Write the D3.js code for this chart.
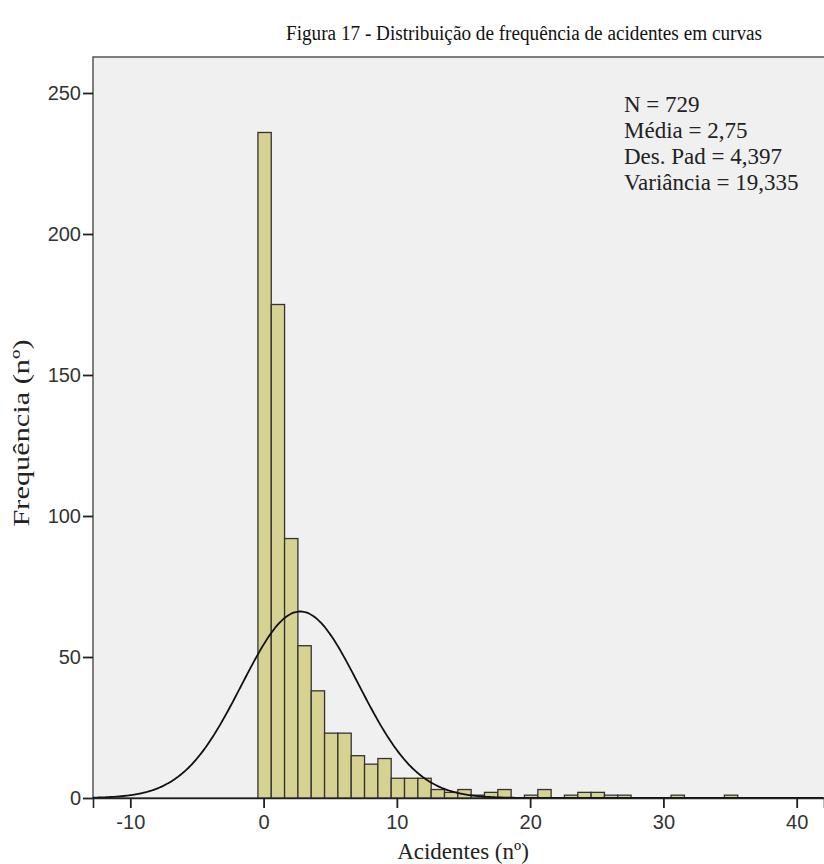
<!DOCTYPE html>
<html><head><meta charset="utf-8">
<script src="https://cdn.jsdelivr.net/npm/d3@7"></script>
<style>body{margin:0;background:#fff}svg{display:block}</style>
</head><body><svg id="c" width="824" height="864"></svg>
<script>
const title = "Figura 17 - Distribuição de frequência de acidentes em curvas";
const xLabel = "Acidentes (nº)";
const yLabel = "Frequência (nº)";
const binCenters = [0,1,2,3,4,5,6,7,8,9,10,11,12,13,14,15,16,17,18,20,21,23,24,25,26,27,31,35];
const binCounts  = [236,175,92,54,38,23,23,15,12,14,7,7,7,3,2,3,1,2,3,1,3,1,2,2,1,1,1,1];
const xTicks = [-10,0,10,20,30,40];
const yTicks = [0,50,100,150,200,250];
const statsLines = ["N = 729","Média = 2,75","Des. Pad = 4,397","Variância = 19,335"];
const nTotal = 729, mean = 2.75, sd = 4.397, binWidth = 1;

const svg = d3.select("#c");
const L = 93, T = 57, R = 824, B = 798;
const x = d3.scaleLinear().domain([-12.8, 42.05]).range([L, R]);
const y = d3.scaleLinear().domain([0, 250]).range([B, 93]);
const serif = "'Liberation Serif','Times New Roman',serif";
const sans = "'Liberation Sans',Arial,sans-serif";

svg.append("text").attr("x", 286).attr("y", 40)
  .attr("font-family",serif).attr("font-size",20)
  .attr("textLength",476).attr("lengthAdjust","spacingAndGlyphs")
  .attr("fill","#111").text(title);

svg.append("rect").attr("x",L).attr("y",T).attr("width",R-L+2).attr("height",B-T)
  .attr("fill","#f0f0f0").attr("stroke","#555").attr("stroke-width",1.5);

svg.append("g").selectAll("rect").data(binCenters.map((c,i)=>({c, v:binCounts[i]})))
  .join("rect")
  .attr("x", d=>x(d.c-binWidth/2)+1)
  .attr("width", d=>x(d.c+binWidth/2)-x(d.c-binWidth/2))
  .attr("y", d=>y(d.v))
  .attr("height", d=>y(0)-y(d.v))
  .attr("fill","#d6d291").attr("stroke","#333").attr("stroke-width",1.3);

const pts = d3.range(-12.8, 42.05, 0.1).map(v=>[v, nTotal*binWidth*Math.exp(-0.5*((v-mean)/sd)**2)/(sd*Math.sqrt(2*Math.PI))]);
svg.append("path").datum(pts)
  .attr("d", d3.line().x(d=>x(d[0])).y(d=>y(d[1])).curve(d3.curveBasis))
  .attr("fill","none").attr("stroke","#111").attr("stroke-width",1.8);

const xa = svg.append("g").attr("transform",`translate(0,${B})`)
  .call(d3.axisBottom(x).tickValues(xTicks).tickSize(10).tickPadding(7).tickFormat(d=>String(d)));
xa.select(".domain").attr("stroke","#222").attr("stroke-width",1.6);
xa.selectAll(".tick line").attr("stroke","#222").attr("stroke-width",1.8);
xa.selectAll("text").attr("font-family",sans).attr("font-size",20).attr("fill","#333");

const ya = svg.append("g").attr("transform",`translate(${L},0)`)
  .call(d3.axisLeft(y).tickValues(yTicks).tickSize(10).tickPadding(2));
ya.select(".domain").remove();
ya.selectAll(".tick line").attr("stroke","#222").attr("stroke-width",1.8);
ya.selectAll("text").attr("font-family",sans).attr("font-size",20).attr("fill","#333");

svg.append("text").attr("x",463).attr("y",859).attr("text-anchor","middle")
  .attr("font-family",serif).attr("font-size",23)
  .attr("fill","#222").text(xLabel);
svg.append("text").attr("transform","translate(29,433) rotate(-90)").attr("text-anchor","middle")
  .attr("font-family",serif).attr("font-size",23)
  .attr("textLength",187).attr("lengthAdjust","spacingAndGlyphs")
  .attr("fill","#222").text(yLabel);

svg.append("g").selectAll("text").data(statsLines).join("text")
  .attr("x",624).attr("y",(d,i)=>112+i*26)
  .attr("font-family",serif).attr("font-size",23)
  .attr("fill","#222").text(d=>d);
</script></body></html>
